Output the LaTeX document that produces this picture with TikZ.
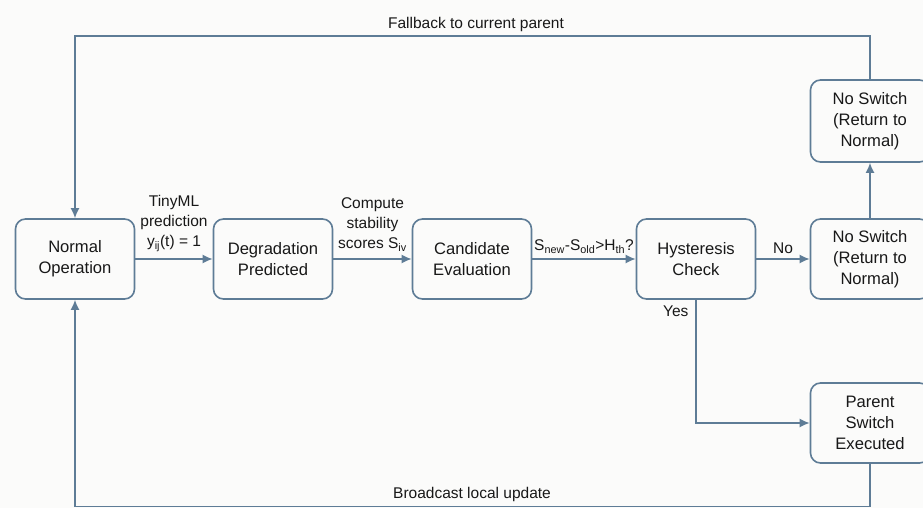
\documentclass[tikz,border=0pt]{standalone}
\usepackage{fontspec}
\setmainfont{Liberation Sans}
\usepackage{tikz}
\usetikzlibrary{arrows.meta,calc}
\definecolor{boxc}{RGB}{94,124,150}
\definecolor{txtc}{RGB}{24,24,24}
\definecolor{bgc}{RGB}{251,251,250}

\begin{document}
\begin{tikzpicture}[x=1pt,y=-1pt,
    box/.style={draw=boxc,line width=1.6pt,rounded corners=10pt,minimum width=119pt,minimum height=80pt,align=center,text=txtc,font=\fontsize{16.6}{20.8}\selectfont},
    lbl/.style={text=txtc,align=center,font=\fontsize{15.5}{20}\selectfont},
    line/.style={draw=boxc,line width=1.6pt,-{Latex[length=10pt,width=9pt]}}]
    \fill[bgc] (0,0) rectangle (923,508);
    \useasboundingbox (0,0) rectangle (923,508);
		    \node[box] (no) at (75,259) {Normal\\Operation};
		    \node[box] (dp) at (273,259) {Degradation\\Predicted};
		    \node[box] (ce) at (472,259) {Candidate\\Evaluation};
		    \node[box] (hc) at (696,259) {Hysteresis\\Check};
		    \node[box,minimum height=80pt] (ns) at (870,259) {No Switch\\(Return to\\Normal)};
		    \node[box,minimum height=82pt] (nt) at (870,121) {No Switch\\(Return to\\Normal)};
		    \node[box] (ps) at (870,423) {Parent\\Switch\\Executed};
		    \coordinate (fb) at (476,36);
		    \coordinate (bc) at (472,506.5);
    \draw[line] (no)--node[lbl,above=3pt]{TinyML\\prediction\\y\textsubscript{ij}(t) = 1}(dp);
    \draw[line] (dp)--node[lbl,above=3pt]{Compute\\stability\\scores S\textsubscript{iv}}(ce);
    \draw[line] (ce)--node[lbl,above=1pt]{S\textsubscript{new}-S\textsubscript{old}>H\textsubscript{th}?}(hc);
    \draw[line] (hc)--node[lbl,above=1pt]{No}(ns);
    \draw[line] (hc.south) |- (ps.west);
    \node[lbl,anchor=north east] (yes) at ($(hc.south)+(-4,3)$) {Yes};
    \draw[line] (ns)--(nt);
    \draw[line] (nt.north) |- (fb) -| (no.north);
    \node[lbl,above=1pt] (fbl) at (fb) {Fallback to current parent};
    \draw[line] (ps.south) |- (bc) -| (no.south);
    \node[lbl,above=1pt] (bcl) at (bc) {Broadcast local update};
   	\end{tikzpicture}
\end{document}
